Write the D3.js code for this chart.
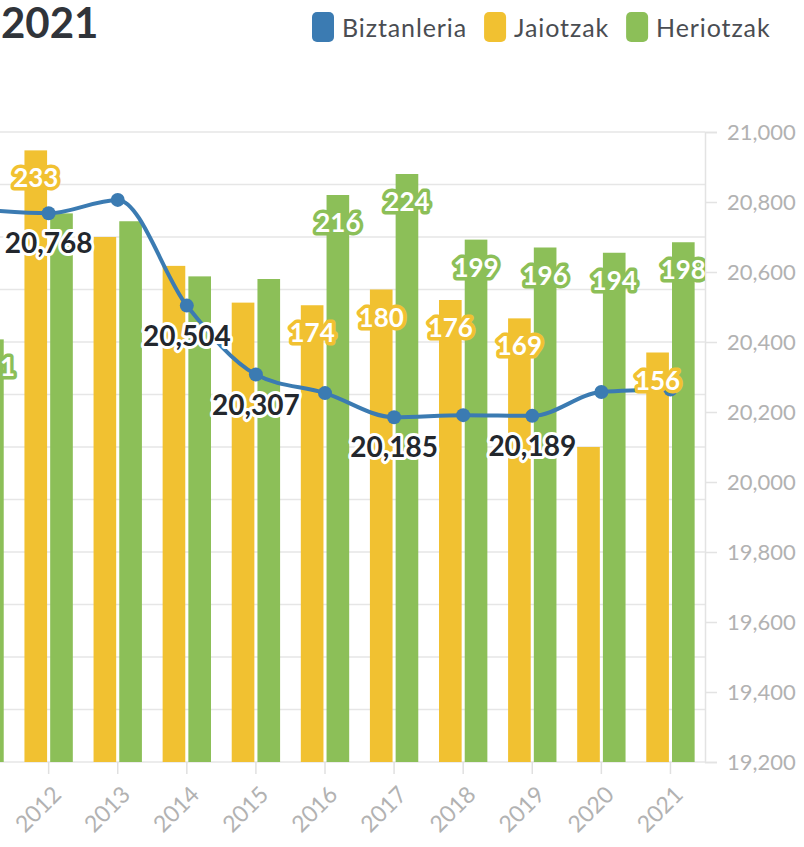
<!DOCTYPE html>
<html>
<head>
<meta charset="utf-8">
<script src="https://cdn.jsdelivr.net/npm/d3@7"></script>
<style>
  body { margin: 0; background: #fff; }
  svg { display: block; font-family: Lato, "Noto Sans", sans-serif; }
</style>
</head>
<body>
<div id="chart"></div>
<script>
// data
const years = ["2011", "2012", "2013", "2014", "2015", "2016", "2017", "2018", "2019", "2020", "2021"];
const biztanleria = [20779, 20768, 20806, 20504, 20307, 20254, 20185, 20191, 20189, 20257, 20264];
const jaiotzak = [null, 233, 200, 189, 175, 174, 180, 176, 169, 120, 156];
const heriotzak = [161, 209, 206, 185, 184, 216, 224, 199, 196, 194, 198];
const leftTicks = [0, 20, 40, 60, 80, 100, 120, 140, 160, 180, 200, 220, 240];
const rightTicks = [19200, 19400, 19600, 19800, 20000, 20200, 20400, 20600, 20800, 21000];
// years whose value label is shown
const popLabelYears = ["2012", "2014", "2015", "2017", "2019"];
const birthLabelYears = ["2012", "2016", "2017", "2018", "2019", "2021"];
const deathLabelYears = ["2011", "2016", "2017", "2018", "2019", "2020", "2021"];
const seriesNames = ["Biztanleria", "Jaiotzak", "Heriotzak"];

const colors = { pop: "#3b7bb2", birth: "#f1c131", death: "#8cbf58" };

const W = 804, H = 847;
// the plot starts left of the visible window, as in the cropped original
const margin = {top: 132, right: 99, bottom: 85, left: -55};
const width = W - margin.left - margin.right,
      height = H - margin.top - margin.bottom;

const svg = d3.select("#chart").append("svg")
  .attr("width", W).attr("height", H);

// title
svg.append("text")
  .attr("x", 1).attr("y", 38)
  .attr("fill", "#30343a")
  .style("font-size", "42px").style("font-weight", 700)
  .text("2021");

// legend
const legendColors = [colors.pop, colors.birth, colors.death];
let lx = 312;
seriesNames.forEach((name, i) => {
  svg.append("rect")
    .attr("x", lx).attr("y", 12).attr("width", 22).attr("height", 30)
    .attr("rx", 5).attr("fill", legendColors[i]);
  const t = svg.append("text")
    .attr("x", lx + 30).attr("y", 37)
    .attr("fill", "#4a4d52")
    .style("font-size", "25px").style("letter-spacing", "0.9px")
    .text(name);
  lx += 30 + t.node().getComputedTextLength() + 17;
});

const g = svg.append("g")
  .attr("transform", `translate(${margin.left},${margin.top})`);

const x = d3.scaleBand().domain(years).range([0, width])
  .paddingInner(0.3).paddingOuter(0.15);
const xSub = d3.scaleBand().domain(["birth", "death"]).range([0, x.bandwidth()])
  .paddingInner(0.12);
const yLeft = d3.scaleLinear().domain([0, 240]).range([height, 0]);
const yRight = d3.scaleLinear().domain([19200, 21000]).range([height, 0]);
const cx = d => x(d) + x.bandwidth() / 2;

// gridlines
g.append("g").selectAll("line")
  .data(leftTicks).join("line")
  .attr("x1", 0).attr("x2", width)
  .attr("y1", d => yLeft(d)).attr("y2", d => yLeft(d))
  .attr("stroke", "#e6e6e6").attr("stroke-width", 1.5);

// right axis
const yAxisR = g.append("g")
  .attr("transform", `translate(${width},0)`)
  .call(d3.axisRight(yRight).tickValues(rightTicks).tickSize(12).tickPadding(10)
    .tickFormat(d3.format(",")));
yAxisR.select(".domain").attr("stroke", "#e3e3e3").attr("stroke-width", 1.5);
yAxisR.selectAll(".tick line").attr("stroke", "#e3e3e3").attr("stroke-width", 1.5);
yAxisR.selectAll("text").attr("fill", "#b2b2b2")
  .style("font-size", "22px").style("font-family", "Lato, sans-serif");

// bottom axis (labels only for bands inside the window)
const xAxis = g.append("g")
  .attr("transform", `translate(0,${height})`)
  .call(d3.axisBottom(x).tickSize(12).tickSizeOuter(0));
xAxis.select(".domain").remove();
xAxis.selectAll(".tick line").attr("stroke", "#e0e0e0").attr("stroke-width", 1.5);
xAxis.selectAll("text")
  .attr("fill", "#b2b2b2")
  .style("font-size", "23px").style("font-family", "Lato, sans-serif")
  .attr("text-anchor", "end")
  .attr("dy", null).attr("y", 0)
  .attr("transform", "translate(14,34)rotate(-45)")
  .filter(d => cx(d) + margin.left < 0).remove();

// bars
const barData = [];
years.forEach((yr, i) => {
  if (jaiotzak[i] != null) barData.push({year: yr, key: "birth", value: jaiotzak[i]});
  if (heriotzak[i] != null) barData.push({year: yr, key: "death", value: heriotzak[i]});
});
g.append("g").selectAll("rect")
  .data(barData).join("rect")
  .attr("x", d => x(d.year) + xSub(d.key))
  .attr("y", d => yLeft(d.value))
  .attr("width", xSub.bandwidth())
  .attr("height", d => height - yLeft(d.value))
  .attr("fill", d => colors[d.key]);

// population line
const popData = years.map((yr, i) => ({year: yr, value: biztanleria[i]}));
g.append("path")
  .datum(popData)
  .attr("fill", "none")
  .attr("stroke", colors.pop)
  .attr("stroke-width", 4)
  .attr("d", d3.line().x(d => cx(d.year)).y(d => yRight(d.value)).curve(d3.curveMonotoneX));
g.append("g").selectAll("circle")
  .data(popData).join("circle")
  .attr("cx", d => cx(d.year)).attr("cy", d => yRight(d.value))
  .attr("r", 7).attr("fill", colors.pop);

// labels, clipped to plot width
g.append("clipPath").attr("id", "plotclip")
  .append("rect").attr("x", 0).attr("y", -margin.top).attr("width", width).attr("height", height + margin.top);
const labels = g.append("g").attr("clip-path", "url(#plotclip)");

labels.selectAll("text.bar")
  .data(barData.filter(d => (d.key === "birth" ? birthLabelYears : deathLabelYears).includes(d.year)))
  .join("text").attr("class", "bar")
  .attr("x", d => x(d.year) + xSub(d.key) + xSub.bandwidth() / 2)
  .attr("y", d => yLeft(d.value) + 37)
  .attr("text-anchor", "middle")
  .style("font-size", "26px").style("font-weight", 700)
  .attr("fill", "#fff")
  .attr("stroke", d => colors[d.key]).attr("stroke-width", 7)
  .attr("stroke-linejoin", "round").attr("paint-order", "stroke")
  .text(d => d.value);

labels.selectAll("text.pop")
  .data(popData.filter(d => popLabelYears.includes(d.year)))
  .join("text").attr("class", "pop")
  .attr("x", d => cx(d.year))
  .attr("y", d => yRight(d.value) + 40)
  .attr("text-anchor", "middle")
  .style("font-size", "28px").style("font-weight", 700)
  .attr("fill", "#23272d")
  .attr("stroke", "#fff").attr("stroke-width", 6)
  .attr("stroke-linejoin", "round").attr("paint-order", "stroke")
  .text(d => d3.format(",")(d.value));
</script>
</body>
</html>
